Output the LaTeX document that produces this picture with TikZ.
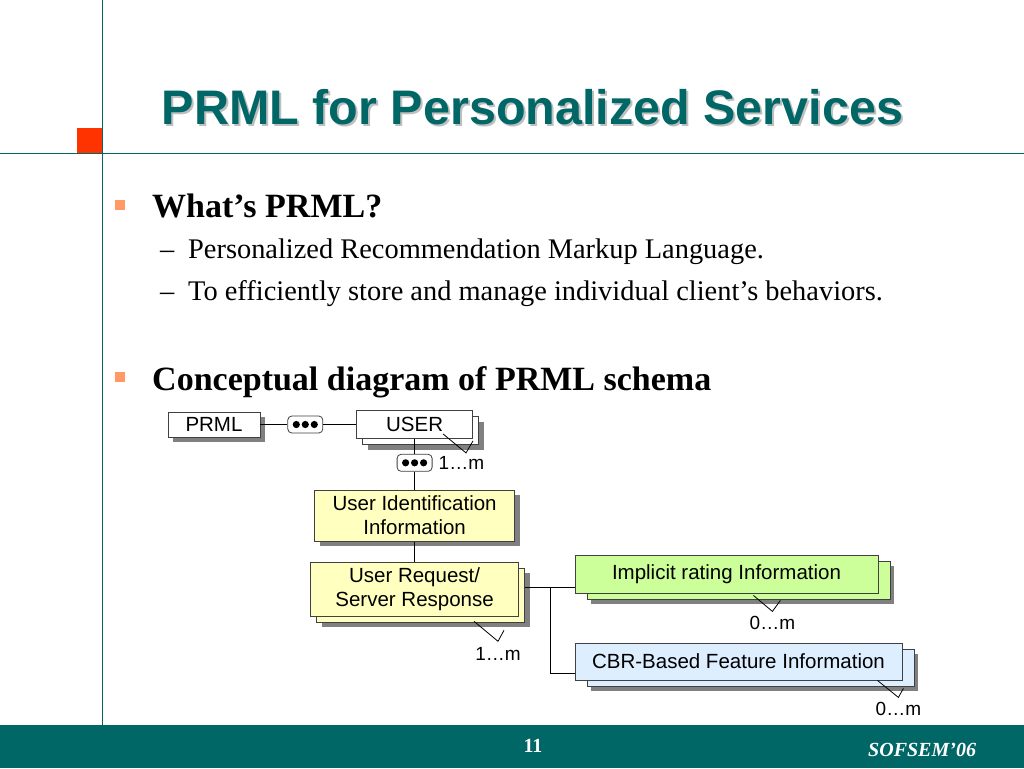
\documentclass[tikz,border=0pt]{standalone}
\usepackage{fontspec}
\setmainfont{Liberation Serif}
\setsansfont{Liberation Sans}
\usetikzlibrary{positioning,shadows,calc}

\definecolor{slideteal}{RGB}{0,102,102}
\definecolor{slidered}{RGB}{255,51,0}
\definecolor{bulletorange}{RGB}{255,153,102}
\definecolor{uiiyellow}{RGB}{255,255,192}
\definecolor{implgreen}{RGB}{204,255,153}
\definecolor{cbrblue}{RGB}{221,238,255}

\begin{document}
\begin{tikzpicture}[
    x=1pt, y=-1pt,
    title/.style={font=\fontsize{48.5}{52}\selectfont\sffamily\bfseries, text=slideteal, anchor=base, inner sep=0pt},
    head/.style={font=\fontsize{34}{38}\selectfont\bfseries, anchor=base west, inner sep=0pt},
    sub/.style={font=\fontsize{28.4}{32}\selectfont, anchor=base west, inner sep=0pt},
    bul/.style={fill=bulletorange, minimum size=10pt, inner sep=0pt},
    plain/.style={draw=black!75, line width=0.8pt, fill=white, align=center, inner sep=0pt, font=\fontsize{20.5}{24}\selectfont\sffamily},
    box/.style={plain, drop shadow={shadow xshift=5pt, shadow yshift=-5pt, fill=black!50, draw=none, opacity=1}},
    stackbox/.style={plain, drop shadow={shadow xshift=11pt, shadow yshift=-11pt, fill=black!50, draw=none, opacity=1},
      copy shadow={shadow xshift=6pt, shadow yshift=-6pt}},
    widestack/.style={plain, drop shadow={shadow xshift=16pt, shadow yshift=-11pt, fill=black!50, draw=none, opacity=1},
      copy shadow={shadow xshift=12pt, shadow yshift=-6pt}},
    seq/.style={draw=black!75, line width=0.8pt, fill=white, rounded corners=4pt, minimum width=35pt, minimum height=17pt, inner sep=0pt,
      path picture={\foreach \dx in {-9,0,9} \fill[black] ([xshift=\dx pt]path picture bounding box.center) circle (3.6pt);}},
    link/.style={line width=0.8pt},
    mult/.style={font=\fontsize{19}{22}\selectfont\sffamily, inner sep=0pt},
    foot/.style={font=\fontsize{20}{22}\selectfont\bfseries, text=white, inner sep=0pt}
  ]
    % slide frame
    \useasboundingbox (0,0) rectangle (1024,768);
    \fill[white] (0,0) rectangle (1024,768);
    \fill[slideteal] (0,725) rectangle (1024,768);
    \draw[slideteal, line width=1pt] (102,0) -- (102,725);
    \draw[slideteal, line width=1pt] (0,153) -- (1024,153);
    \fill[slidered] (77,128) rectangle (102,153);

    \node[title, text=black!25] (titleshadow) at (534.5,126.5) {PRML for Personalized Services};
    \node[title] (title) at (532.5,124) {PRML for Personalized Services};

    \node[bul] (bul1) at (120,205) {};
    \node[head] (what) at (152,217) {What’s PRML?};
    \node[sub] (what1) at (160,258) {\makebox[28pt][l]{–}Personalized Recommendation Markup Language.};
    \node[sub] (what2) at (160,300) {\makebox[28pt][l]{–}To efficiently store and manage individual client’s behaviors.};
    \node[bul] (bul2) at (120,377) {};
    \node[head] (concept) at (152,390) {Conceptual diagram of PRML schema};

    \node[foot, anchor=base] (page) at (533,752) {11};
    \node[foot, anchor=base west, font=\fontsize{20}{22}\selectfont\bfseries\itshape] (conf) at (868,756) {SOFSEM’06};

    % schema
    \node[box, minimum width=92pt, minimum height=25pt] (prml) at (214,424.5) {PRML};
    \node[seq, right=27pt of prml] (seq1) {};
    \node[stackbox, minimum width=116pt, minimum height=28pt, right=33pt of seq1] (user) {USER};
    \node[seq, below=15pt of user] (seq2) {};
    \node[mult, right=6pt of seq2] (usermult) {1…m};
    \node[box, fill=uiiyellow, minimum width=200pt, minimum height=51pt, below=18pt of seq2] (uii) {User Identification\\Information};
    \node[stackbox, fill=uiiyellow, minimum width=208pt, minimum height=54pt, below=20pt of uii] (ursr) {User Request/\\Server Response};
    \node[widestack, fill=implgreen, minimum width=303pt, minimum height=38pt] (impl) at (726.5,574) {Implicit rating Information};
    \node[widestack, fill=cbrblue, minimum width=327pt, minimum height=37pt] (cbr) at (738.5,661.5) {CBR-Based Feature Information};

    \draw[link] (prml) -- (seq1);
    \draw[link] (seq1) -- (user);
    \draw[link] (user) -- (seq2);
    \draw[link] (seq2) -- (uii);
    \draw[link] (uii) -- (ursr);
    \coordinate (split) at ([xshift=31pt,yshift=2pt]ursr.east);
    \draw[link] ([xshift=6pt,yshift=2pt]ursr.east) -- (split -| impl.west);
    \draw[link] (split) |- ([yshift=-12pt]cbr.west);

    % multiplicity marks
    \draw[link] ($(user.south east)+(-30,-5)$) -- ++(23,19) coordinate (user-tip) -- ++(7,-12);
    \draw[link] ($(ursr.south east)+(-45,5)$) -- ++(24,20) coordinate (ursr-tip) -- ++(6,-11);
    \node[mult, below=6pt of ursr-tip] (ursrmult) {1…m};
    \draw[link] ($(impl.south east)+(-125,2)$) -- ++(19,16) coordinate (impl-tip) -- ++(8,-11);
    \node[mult, below=5pt of impl-tip] (implmult) {0…m};
    \draw[link] ($(cbr.south east)+(-25,0)$) -- ++(21,17) coordinate (cbr-tip) -- ++(5,-9);
    \node[mult, below=5pt of cbr-tip] (cbrmult) {0…m};
  \end{tikzpicture}
\end{document}
